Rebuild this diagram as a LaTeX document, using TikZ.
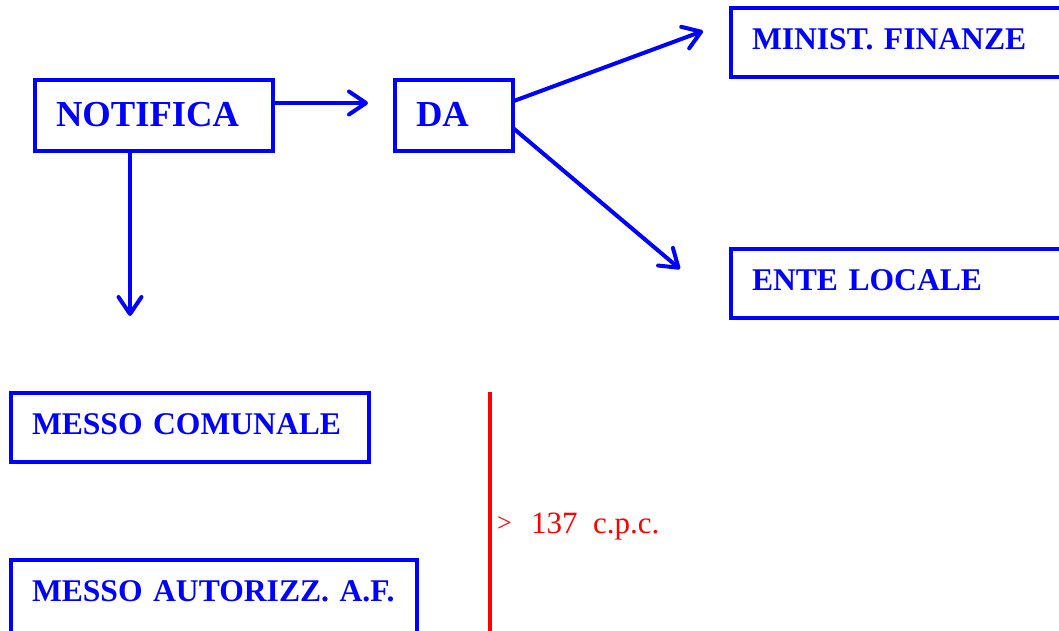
\documentclass[tikz,border=0pt]{standalone}
\usepackage{fontspec}
\setmainfont{Liberation Serif}
\usetikzlibrary{arrows.meta,calc}

\definecolor{boxblue}{RGB}{0,0,255}
\definecolor{normred}{RGB}{255,0,0}

\tikzset{
  box/.style={draw=boxblue, line width=4pt, outer sep=0pt, inner ysep=0pt,
    inner xsep=21pt, align=left, text=boxblue, anchor=north west,
    font=\bfseries\fontsize{31.6}{38}\selectfont,
    text height=41.5pt, text depth=28pt},
  bigbox/.style={box, font=\bfseries\fontsize{36.6}{42}\selectfont,
    text height=47pt, text depth=24pt},
  arr/.style={draw=boxblue, line width=4pt,
    -{Straight Barb[length=17pt,width=23pt,line cap=round,line join=round]}},
  redline/.style={draw=normred, line width=3.5pt},
  redtext/.style={text=normred, inner sep=0pt, anchor=base west}
}

\begin{document}
\begin{tikzpicture}[x=1pt,y=-1pt]
  \useasboundingbox (0,0) rectangle (1059,631);
  \clip (0,0) rectangle (1059,631);

  % boxes
  \node[bigbox, text width=196pt] (notifica) at (35,80) {\mbox{NOTIFICA}};
  \node[bigbox, text width=76pt]  (da)       at (395,80) {\mbox{DA}};
  \node[box, text width=317pt]    (minist)   at (731,8) {\mbox{MINIST. FINANZE}};
  \node[box, text width=317pt]    (ente)     at (731,248.5) {\mbox{ENTE LOCALE}};
  \node[box, text width=316pt]    (comunale) at (11,392.5) {\mbox{MESSO COMUNALE}};
  \node[box, text width=364pt, text depth=34pt] (autorizz) at (11,560) {\mbox{MESSO AUTORIZZ. A.F.}};

  % arrow end points
  \coordinate (tipda)   at (368,103);
  \coordinate (tipmin)  at (703,31);
  \coordinate (tipente) at (680,269);
  \coordinate (tipdown) at (130,316);

  % arrows
  \draw[arr] (tipda -| notifica.east) -- (tipda);
  \draw[arr] ($(da.north east)!0.3!(da.south east)$) -- (tipmin);
  \draw[arr] ($(da.north east)!0.676!(da.south east)$) -- (tipente);
  \draw[arr] (notifica.south -| tipdown) -- (tipdown);

  % red bracket with its note
  \coordinate (redtop) at (490,392);
  \coordinate (redbot) at (490,640);
  \draw[redline] (redtop) -- (redbot);
  \node[redtext, font=\fontsize{26}{30}\selectfont] (gt) at (497,531) {>};
  \node[redtext, font=\fontsize{31}{36}\selectfont] (cpc) at (531,533) {137\ \ c.p.c.};
\end{tikzpicture}
\end{document}
